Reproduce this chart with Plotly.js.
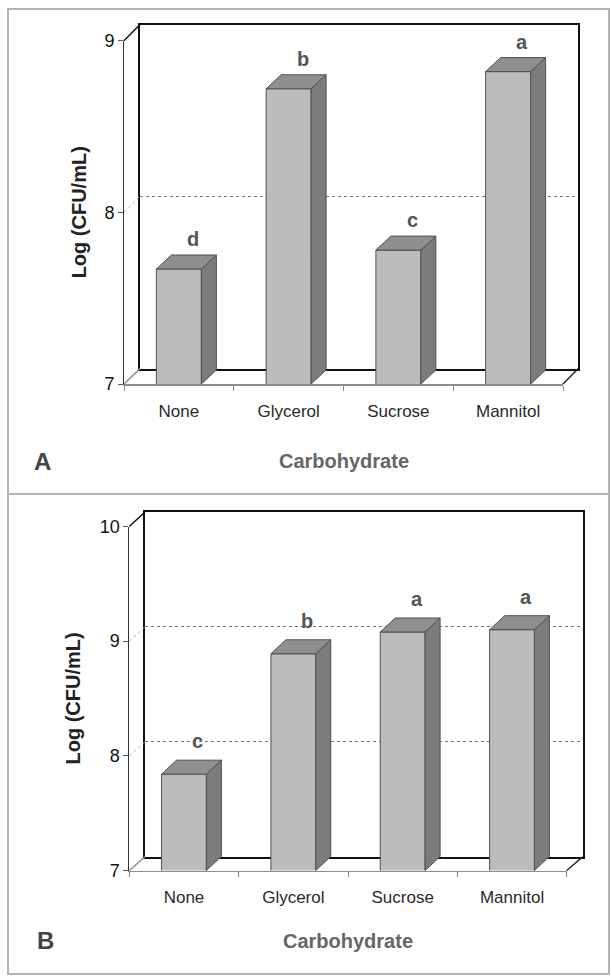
<!DOCTYPE html>
<html>
<head>
<meta charset="utf-8">
<script src="https://cdn.plot.ly/plotly-3.0.1.min.js"></script>
<style>html,body{margin:0;padding:0;background:#fff;}#chart{width:611px;height:976px;}</style>
</head>
<body>
<div id="chart"></div>
<script>
// ---------- data ----------
const categories = ['None', 'Glycerol', 'Sucrose', 'Mannitol'];
const valuesA = [7.67, 8.72, 7.78, 8.82];
const valuesB = [7.84, 8.89, 9.08, 9.10];
const lettersA = ['d', 'b', 'c', 'a'];
const lettersB = ['c', 'b', 'a', 'a'];
const yTicksA = [7, 8, 9];
const yTicksB = [7, 8, 9, 10];
const xTitle = 'Carbohydrate';
const yTitle = 'Log (CFU/mL)';

// ---------- layout geometry (pixels) ----------
const W = 611, H = 976;
const FONT = 'Liberation Sans, Arial, Helvetica, sans-serif';
const geomA = {fx0:124, fx1:563, fyTop:40.7, fyBot:384, bx0:140, bx1:578.3, byTop:24.5, byBot:368.5,
               yMin:7, yMax:9, letterShift:30, yTitleX:79, xTitleX:344, xTitleY:461, tagX:42, tagY:461};
const geomB = {fx0:129.3, fx1:566.7, fyTop:526.5, fyBot:870.5, bx0:145, bx1:582.7, byTop:512, byBot:856.7,
               yMin:7, yMax:10, letterShift:33, yTitleX:72, xTitleX:348, xTitleY:941, tagX:45, tagY:940};
const depthPx = {dx:15, dy:14};
const barWidth = 0.41;

const px = v => v / W;
const py = v => 1 - v / H;

const data = [];
const layout = {
  width: W, height: H,
  margin: {l:0, r:0, t:0, b:0},
  paper_bgcolor: '#ffffff',
  plot_bgcolor: 'rgba(0,0,0,0)',
  showlegend: false,
  bargap: 0,
  font: {family: FONT, color: '#222'},
  shapes: [],
  annotations: []
};

function buildPanel(values, letters, yTicks, g, ids, tag) {
  const n = categories.length;
  const catPx = (g.fx1 - g.fx0) / n;
  const unitPx = (g.fyBot - g.fyTop) / (g.yMax - g.yMin);
  const dx = depthPx.dx / catPx;
  const dy = depthPx.dy / unitPx;
  const hw = barWidth / 2;
  const xs = categories.map((_, i) => i);

  // back wall subplot (needs a trace to exist)
  data.push({type:'scatter', x:[0.5], y:[g.yMin], xaxis:ids.bx, yaxis:ids.by, mode:'markers',
             marker:{opacity:0}, hoverinfo:'skip', showlegend:false});

  // front faces
  data.push({type:'bar', x:xs, y:values, width:barWidth, xaxis:ids.fx, yaxis:ids.fy,
             marker:{color:'#bcbcbc', line:{color:'#505050', width:1}}, hoverinfo:'x+y'});

  // side faces and top faces computed from values
  const sx = [], sy = [], tx = [], ty = [];
  values.forEach((v, i) => {
    const xl = i - hw, xr = i + hw;
    sx.push(xr, xr, xr + dx, xr + dx, xr, null);
    sy.push(g.yMin, v, v + dy, g.yMin + dy, g.yMin, null);
    tx.push(xl, xr, xr + dx, xl + dx, xl, null);
    ty.push(v, v, v + dy, v + dy, v, null);
  });
  data.push({type:'scatter', x:sx, y:sy, xaxis:ids.fx, yaxis:ids.fy, mode:'lines', fill:'toself',
             fillcolor:'#7c7c7c', line:{color:'#505050', width:1}, hoverinfo:'skip', cliponaxis:false});
  data.push({type:'scatter', x:tx, y:ty, xaxis:ids.fx, yaxis:ids.fy, mode:'lines', fill:'toself',
             fillcolor:'#8f8f8f', line:{color:'#505050', width:1}, hoverinfo:'skip', cliponaxis:false});

  // axes
  layout[ids.bxa] = {domain:[px(g.bx0), px(g.bx1)], range:[0, 1], anchor:ids.by,
    showgrid:false, zeroline:false, showticklabels:false, ticks:'', showline:true, mirror:true,
    linecolor:'#111', linewidth:2, fixedrange:true};
  layout[ids.bya] = {domain:[py(g.byBot), py(g.byTop)], range:[g.yMin, g.yMax], anchor:ids.bx,
    tickmode:'array', tickvals:yTicks, showticklabels:false, ticks:'',
    showgrid:true, griddash:'dot', gridcolor:'#777', gridwidth:1,
    zeroline:false, showline:true, mirror:true, linecolor:'#111', linewidth:2, fixedrange:true};
  const bounds = categories.map((_, i) => i - 0.5).concat([n - 0.5]);
  layout[ids.fxa] = {domain:[px(g.fx0), px(g.fx1)], range:[-0.5, n - 0.5], anchor:ids.fy,
    tickmode:'array', tickvals:xs, ticktext:categories, ticks:'', showgrid:false, zeroline:false,
    showline:true, linecolor:'#8c8c8c', linewidth:1.5,
    tickfont:{family:FONT, size:17, color:'#2a2a2a'}, ticklabelstandoff:11,
    minor:{tickmode:'array', tickvals:bounds, ticks:'outside', ticklen:5, tickcolor:'#888', tickwidth:1},
    fixedrange:true};
  layout[ids.fya] = {domain:[py(g.fyBot), py(g.fyTop)], range:[g.yMin, g.yMax], anchor:ids.fx,
    tickmode:'array', tickvals:yTicks, ticks:'outside', ticklen:5, tickcolor:'#555', tickwidth:1,
    showgrid:false, zeroline:false, showline:true, linecolor:'#333', linewidth:1,
    tickfont:{family:FONT, size:18, color:'#111'}, fixedrange:true};

  // wall edges
  const line = (x0, y0, x1, y1, color, width, dash) => layout.shapes.push({type:'line', xref:'paper', yref:'paper',
    x0:px(x0), y0:py(y0), x1:px(x1), y1:py(y1), line:{color:color, width:width, dash:dash || 'solid'}});
  line(g.fx0, g.fyTop, g.bx0, g.byTop, '#111', 1.5);
  line(g.fx0, g.fyBot, g.bx0, g.byBot, '#8c8c8c', 1.5);
  line(g.fx1, g.fyBot, g.bx1, g.byBot, '#222', 1.5);
  yTicks.slice(1, -1).forEach(t => {
    const f = (t - g.yMin) / (g.yMax - g.yMin);
    line(g.fx0, g.fyBot - f * (g.fyBot - g.fyTop), g.bx0, g.byBot - f * (g.byBot - g.byTop), '#aaa', 1, 'dot');
  });

  // significance letters
  letters.forEach((L, i) => layout.annotations.push({text:'<b>' + L + '</b>', x:i, y:values[i], xref:ids.fx, yref:ids.fy,
    xshift:14, yshift:g.letterShift, yanchor:'middle', showarrow:false,
    font:{family:FONT, size:20, color:'#555'}}));

  // titles
  layout.annotations.push({text:'<b>' + yTitle + '</b>', xref:'paper', yref:'paper', x:px(g.yTitleX),
    y:py((g.fyTop + g.fyBot) / 2), textangle:-90, showarrow:false, xanchor:'center', yanchor:'middle',
    font:{family:FONT, size:20, color:'#222'}});
  layout.annotations.push({text:'<b>' + xTitle + '</b>', xref:'paper', yref:'paper', x:px(g.xTitleX),
    y:py(g.xTitleY), showarrow:false, xanchor:'center', yanchor:'middle',
    font:{family:FONT, size:20, color:'#666'}});
  layout.annotations.push({text:'<b>' + tag + '</b>', xref:'paper', yref:'paper', x:px(g.tagX), y:py(g.tagY),
    showarrow:false, xanchor:'center', yanchor:'middle', font:{family:FONT, size:24, color:'#444'}});
}

buildPanel(valuesA, lettersA, yTicksA, geomA,
  {bx:'x', by:'y', fx:'x2', fy:'y2', bxa:'xaxis', bya:'yaxis', fxa:'xaxis2', fya:'yaxis2'}, 'A');
buildPanel(valuesB, lettersB, yTicksB, geomB,
  {bx:'x3', by:'y3', fx:'x4', fy:'y4', bxa:'xaxis3', bya:'yaxis3', fxa:'xaxis4', fya:'yaxis4'}, 'B');

// outer panel frames
layout.shapes.push({type:'rect', xref:'paper', yref:'paper', x0:px(8), y0:py(974), x1:px(609), y1:py(9),
  line:{color:'#b4b4b4', width:2}, layer:'below'});
layout.shapes.push({type:'line', xref:'paper', yref:'paper', x0:px(8), y0:py(494), x1:px(609), y1:py(494),
  line:{color:'#b4b4b4', width:2}, layer:'below'});

Plotly.newPlot('chart', data, layout, {displayModeBar:false, staticPlot:true});
</script>
</body>
</html>
